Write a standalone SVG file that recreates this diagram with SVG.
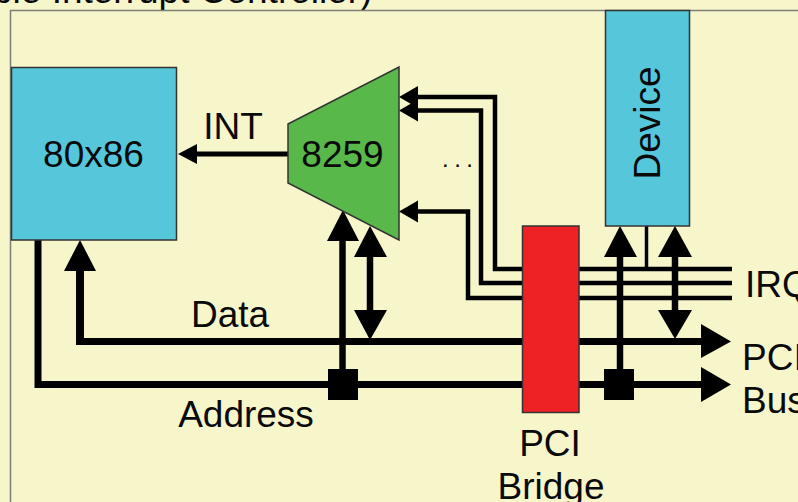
<svg xmlns="http://www.w3.org/2000/svg" width="798" height="502" viewBox="0 0 798 502">
<style>
text{font-family:"Liberation Sans",Arial,sans-serif;fill:#0a0a0a;font-size:37px}
.box{stroke:#333;stroke-width:1.5}
.bus{fill:none;stroke:#000;stroke-width:7}
.irq{fill:none;stroke:#000;stroke-width:4.5}
.thin{fill:none;stroke:#000;stroke-width:6.500}
.head{fill:#000}
</style>
<rect width="798" height="502" fill="#f7f6cb"/>
<text x="-8" y="3">ble Interrupt Controller)</text>
<path d="M10.500 502V10.500H798" fill="none" stroke="#7f7f78" stroke-width="1.500"/>
<g id="connectors">
<path class="bus" d="M38 240V384.500H702"/>
<path class="bus" style="stroke-width:8" d="M80 270V341.500" />
<path class="bus" d="M76 341.500H702"/>
<path class="thin" d="M342.500 240V370"/>
<path class="thin" d="M370 255V312"/>
<path class="thin" d="M620 255V370"/>
<path class="thin" d="M675 255V312"/>
<path class="irq" d="M418 97H495V269H522"/>
<path class="irq" d="M418 110.500H481V283H522"/>
<path class="irq" d="M418 211.500H468V298H522"/>
<path class="irq" d="M579 269H732M579 283H732M579 298H732"/>
<path class="irq" style="stroke-width:3.500" d="M646.500 226V269"/>
<path class="bus" d="M195 154H288" style="stroke-width:5"/>
<path class="head" d="M178 154L197 144V164Z"/>
<path class="head" d="M80 240L96 271H64Z"/>
<path class="head" d="M343 210L359 241H327Z"/>
<path class="head" d="M370 226L387 257H354Z"/>
<path class="head" d="M370 340L387 310H354Z"/>
<path class="head" d="M620 226L637 257H604Z"/>
<path class="head" d="M675 226L692 257H658Z"/>
<path class="head" d="M675 339L692 310H658Z"/>
<path class="head" d="M731 341.500L701 324V358Z"/>
<path class="head" d="M731 384.500L701 367V402Z"/>
<path class="head" d="M399 97L418 86V108Z"/>
<path class="head" d="M399 110.500L418 99.500V121.500Z"/>
<path class="head" d="M399 211.500L418 200.500V222.500Z"/>
<rect class="head" x="328" y="369" width="30" height="31"/>
<rect class="head" x="604" y="369" width="30" height="31"/>
</g>
<g id="cpu"><rect class="box" x="11.500" y="67.500" width="165" height="172.500" fill="#56c6db"/><text x="93.500" y="167" text-anchor="middle">80x86</text></g>
<g id="pic"><path class="box" d="M288 124L399 67V240L288 183Z" fill="#58b84a"/><text x="342.500" y="167" text-anchor="middle">8259</text></g>
<g id="device"><rect class="box" x="605.500" y="10.500" width="84" height="215.500" fill="#56c6db"/><text transform="translate(660 123) rotate(-90)" text-anchor="middle">Device</text></g>
<g id="bridge"><rect class="box" x="522.500" y="226" width="56.500" height="186.500" fill="#ee2225"/><text x="550" y="456" text-anchor="middle">PCI</text><text x="551" y="499" text-anchor="middle">Bridge</text></g>
<text x="233" y="139" text-anchor="middle">INT</text>
<text x="230" y="327" text-anchor="middle">Data</text>
<text x="246" y="427" text-anchor="middle">Address</text>
<text x="442" y="167" style="font-size:24px;letter-spacing:5.500px">...</text>
<text x="745" y="297">IRQ</text>
<text x="742" y="370">PCI</text>
<text x="742" y="413">Bus</text>
</svg>
